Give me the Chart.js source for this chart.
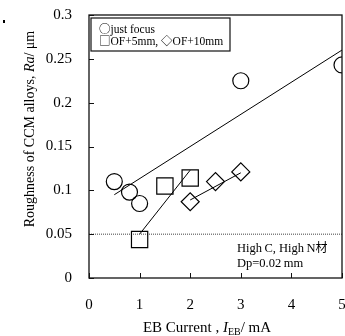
<!DOCTYPE html>
<html>
<head>
<meta charset="utf-8">
<script src="https://cdn.jsdelivr.net/npm/chart.js@4.4.1/dist/chart.umd.min.js"></script>
<style>
  html, body { margin: 0; padding: 0; background: #fff; }
</style>
</head>
<body>
<canvas id="chart" width="345" height="336"></canvas>
<script>
// tick labels
const xTicks = ['0', '1', '2', '3', '4', '5'];
const yTicks = ['0', '0.05', '0.1', '0.15', '0.2', '0.25', '0.3'];

// just focus (circles)
const focusX = [0.5, 0.8, 1.0, 3.0, 5.0];
const focusY = [0.110, 0.098, 0.085, 0.225, 0.243];
// OF+5mm (squares)
const of5X = [1.0, 1.5, 2.0];
const of5Y = [0.044, 0.105, 0.114];
// OF+10mm (diamonds)
const of10X = [2.0, 2.5, 3.0];
const of10Y = [0.087, 0.110, 0.121];

// trend lines
const focusFitX = [0.5, 5.0];
const focusFitY = [0.095, 0.260];
const of5FitX = [1.0, 2.0];
const of5FitY = [0.050, 0.123];
const of10FitX = [2.0, 3.0];
const of10FitY = [0.089, 0.120];

// threshold
const limitX = [0, 5];
const limitY = [0.05, 0.05];

const SERIF = "'Liberation Serif', 'Times New Roman', serif";
const CJK = "'Noto Sans CJK JP', sans-serif";

function pts(xs, ys) {
  return xs.map((x, i) => ({ x: x, y: ys[i] }));
}

function marker(xs, ys, style, r) {
  return {
    data: pts(xs, ys),
    showLine: false,
    pointStyle: style,
    pointRadius: r,
    pointBackgroundColor: 'rgba(255,255,255,0)',
    pointBorderColor: '#000',
    pointBorderWidth: 1.2
  };
}

function fitLine(xs, ys) {
  return {
    data: pts(xs, ys),
    showLine: true,
    borderColor: '#000',
    borderWidth: 1,
    pointRadius: 0
  };
}

// draws text runs in a row (for italic / subscript pieces)
function drawRuns(ctx, runs, x, y, align) {
  let total = 0;
  runs.forEach(r => { ctx.font = r.font; total += ctx.measureText(r.t).width; });
  let cx = align === 'center' ? x - total / 2 : x;
  ctx.textAlign = 'left';
  ctx.textBaseline = 'alphabetic';
  runs.forEach(r => {
    ctx.font = r.font;
    ctx.fillText(r.t, cx, y + (r.dy || 0));
    cx += ctx.measureText(r.t).width;
  });
}

function noPad(s) {
  s.paddingLeft = 0;
  s.paddingRight = 0;
  s.paddingTop = 0;
  s.paddingBottom = 0;
}

const decor = {
  id: 'decor',
  afterDraw(chart) {
    const ctx = chart.ctx;
    const a = chart.chartArea;
    const xs = chart.scales.x, ys = chart.scales.y;
    ctx.save();
    ctx.strokeStyle = '#111';
    ctx.lineWidth = 1.3;
    ctx.strokeRect(a.left, a.top, a.right - a.left, a.bottom - a.top);

    // inward ticks
    ctx.lineWidth = 1;
    ctx.beginPath();
    xTicks.forEach(t => {
      const px = Math.round(xs.getPixelForValue(parseFloat(t))) + 0.5;
      ctx.moveTo(px, a.bottom);
      ctx.lineTo(px, a.bottom - 5);
    });
    yTicks.forEach(t => {
      const py = Math.round(ys.getPixelForValue(parseFloat(t))) + 0.5;
      ctx.moveTo(a.left, py);
      ctx.lineTo(a.left + 5, py);
    });
    ctx.stroke();

    // legend box
    ctx.fillStyle = '#fff';
    ctx.fillRect(91, 18, 139, 33);
    ctx.strokeStyle = '#111';
    ctx.lineWidth = 1.2;
    ctx.strokeRect(91, 18, 139, 33);
    ctx.fillStyle = '#000';
    const lf = '11.5px ' + SERIF;
    const ls = '11.5px ' + CJK;
    drawRuns(ctx, [
      { t: '\u25CB', font: ls },
      { t: 'just focus', font: lf }
    ], 99, 33, 'left');
    drawRuns(ctx, [
      { t: '\u25A1', font: ls },
      { t: 'OF+5mm, ', font: lf },
      { t: '\u25C7', font: ls },
      { t: 'OF+10mm', font: lf }
    ], 99, 45, 'left');

    // annotation
    drawRuns(ctx, [
      { t: 'High\u2009C, High\u2009N', font: '12.5px ' + SERIF },
      { t: '\u6750', font: '12px ' + CJK }
    ], 237, 252, 'left');
    drawRuns(ctx, [
      { t: 'Dp=0.02\u2009mm', font: '12.5px ' + SERIF }
    ], 237, 267, 'left');

    // x title
    const f = '15px ' + SERIF;
    const fi = 'italic 15px ' + SERIF;
    const fs = '10px ' + SERIF;
    drawRuns(ctx, [
      { t: 'EB Current , ', font: f },
      { t: 'I', font: fi },
      { t: 'EB', font: fs, dy: 3 },
      { t: '/ mA', font: f }
    ], 207, 332, 'center');

    // y title
    const g = '14px ' + SERIF;
    const gi = 'italic 14px ' + SERIF;
    ctx.save();
    ctx.translate(34, 129);
    ctx.rotate(-Math.PI / 2);
    drawRuns(ctx, [
      { t: 'Roughness of CCM alloys, ', font: g },
      { t: 'Ra', font: gi },
      { t: '/ \u03BCm', font: g }
    ], 0, 0, 'center');
    ctx.restore();

    // stray dot at top left
    ctx.fillRect(3, 20, 2, 3);
    ctx.restore();
  }
};

new Chart(document.getElementById('chart'), {
  type: 'scatter',
  data: {
    datasets: [
      marker(focusX, focusY, 'circle', 8),
      marker(of5X, of5Y, 'rect', 11.5),
      marker(of10X, of10Y, 'rectRot', 9),
      fitLine(focusFitX, focusFitY),
      fitLine(of5FitX, of5FitY),
      fitLine(of10FitX, of10FitY),
      {
        data: pts(limitX, limitY),
        showLine: true,
        borderColor: '#444',
        borderWidth: 1,
        borderDash: [1, 1],
        pointRadius: 0
      }
    ]
  },
  options: {
    responsive: false,
    animation: false,
    devicePixelRatio: 1,
    layout: { autoPadding: false, padding: { top: 15, right: 3, left: 0, bottom: 0 } },
    plugins: {
      legend: { display: false },
      tooltip: { enabled: false }
    },
    scales: {
      x: {
        type: 'linear',
        min: 0,
        max: 5,
        afterFit: s => { s.height = 58; noPad(s); },
        afterBuildTicks: s => { s.ticks = xTicks.map(t => ({ value: parseFloat(t) })); },
        grid: { display: false },
        border: { display: false },
        ticks: {
          color: '#000',
          padding: 10,
          maxRotation: 0,
          font: { family: SERIF, size: 15 },
          callback: (v, i) => xTicks[i]
        }
      },
      y: {
        type: 'linear',
        min: 0,
        max: 0.3,
        afterFit: s => { s.width = 89; noPad(s); },
        afterBuildTicks: s => { s.ticks = yTicks.map(t => ({ value: parseFloat(t) })); },
        grid: { display: false },
        border: { display: false },
        ticks: {
          color: '#000',
          padding: 9,
          font: { family: SERIF, size: 15 },
          callback: (v, i) => yTicks[i]
        }
      }
    }
  },
  plugins: [decor]
});
</script>
</body>
</html>
